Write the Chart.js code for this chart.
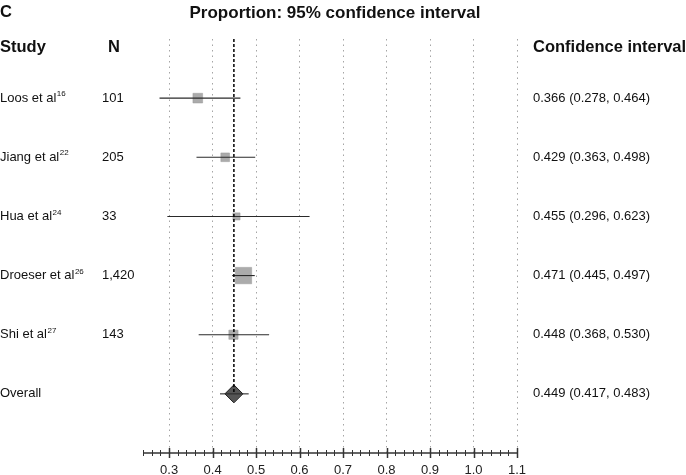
<!DOCTYPE html>
<html>
<head>
<meta charset="utf-8">
<script src="https://cdn.jsdelivr.net/npm/chart.js@4.4.1/dist/chart.umd.min.js"></script>
<style>
  html, body { margin: 0; padding: 0; background: #fff; overflow: hidden; }
  #wrap { width: 686px; height: 475px; }
</style>
</head>
<body>
<div id="wrap"><canvas id="chart1" width="686" height="475"></canvas></div>
<script>
/* forest plot data */
const studies = ['Loos et al', 'Jiang et al', 'Hua et al', 'Droeser et al', 'Shi et al', 'Overall'];
const refs = ['16', '22', '24', '26', '27', ''];
const sampleSizes = ['101', '205', '33', '1,420', '143', ''];
const estimates = [0.366, 0.429, 0.455, 0.471, 0.448, 0.449];
const lower = [0.278, 0.363, 0.296, 0.445, 0.368, 0.417];
const upper = [0.464, 0.498, 0.623, 0.497, 0.530, 0.483];
const weights = [16.4, 13.1, 8.9, 46.7, 14.8];   // % weight, box area
const tickValues = [0.3, 0.4, 0.5, 0.6, 0.7, 0.8, 0.9, 1.0, 1.1];

const FONT = "'Liberation Sans', Arial, sans-serif";
const last = studies.length - 1;

const whiskers = studies.map((s, i) => ({
    data: [{ x: lower[i], y: i }, { x: upper[i], y: i }],
    showLine: true,
    borderColor: '#2a2a2a',
    borderWidth: 1.1,
    pointRadius: 0,
    order: 1
}));

const boxes = {
    data: weights.map((w, i) => ({ x: estimates[i], y: i })),
    pointStyle: 'rect',
    pointRadius: weights.map(w => Math.sqrt(w) * 2.4 / Math.SQRT2),
    backgroundColor: '#ababab',
    borderColor: '#9a9a9a',
    borderWidth: 0.5,
    order: 2
};

const diamond = {
    data: [{ x: estimates[last], y: last }],
    pointStyle: 'rectRot',
    pointRadius: 9,
    backgroundColor: '#555',
    borderColor: '#222',
    borderWidth: 1,
    order: 2
};

const overallLine = {
    data: [{ x: estimates[last], y: -1 }, { x: estimates[last], y: last }],
    showLine: true,
    borderColor: '#000',
    borderWidth: 1.5,
    borderDash: [3, 2],
    pointRadius: 0,
    order: 0
};

/* axis line with major and minor ticks crossing it */
const axisPlugin = {
    id: 'axisPlugin',
    afterDraw(chart) {
        const c = chart.ctx;
        const xs = chart.scales.x;
        const y = chart.chartArea.bottom;
        c.save();
        c.strokeStyle = '#333';
        c.lineWidth = 1.3;
        c.beginPath();
        c.moveTo(xs.left, y);
        c.lineTo(xs.right, y);
        c.stroke();
        for (let k = 12; k <= 55; k++) {
            const v = k / 50;
            const px = Math.round(xs.getPixelForValue(v)) + 0.5;
            const major = k % 5 === 0;
            c.lineWidth = major ? 1.5 : 1;
            c.beginPath();
            c.moveTo(px, y - (major ? 5 : 3));
            c.lineTo(px, y + (major ? 5 : 3));
            c.stroke();
        }
        c.restore();
    }
};

/* title, column headers and row texts */
const textPlugin = {
    id: 'textPlugin',
    afterDraw(chart) {
        const c = chart.ctx;
        const ys = chart.scales.y;
        c.save();
        c.fillStyle = '#111';
        c.textBaseline = 'middle';
        c.font = 'bold 16.5px ' + FONT;
        c.textAlign = 'left';
        c.fillText('C', 0, 12);
        c.textAlign = 'center';
        c.font = 'bold 17px ' + FONT;
        c.fillText('Proportion: 95% confidence interval', 335, 13);
        c.textAlign = 'left';
        c.font = 'bold 16.5px ' + FONT;
        c.fillText('Study', 0, 47);
        c.fillText('N', 108, 47);
        c.fillText('Confidence interval', 533, 47);

        studies.forEach((s, i) => {
            const py = ys.getPixelForValue(i);
            c.font = '13px ' + FONT;
            c.fillText(s, 0, py);
            const w = c.measureText(s).width;
            c.fillText(sampleSizes[i], 102, py);
            c.fillText(estimates[i].toFixed(3) + ' (' + lower[i].toFixed(3) + ', ' + upper[i].toFixed(3) + ')', 533, py);
            if (refs[i]) {
                c.font = '8px ' + FONT;
                c.fillText(refs[i], w + 0.5, py - 4);
            }
        });
        c.restore();
    }
};

const config = {
    type: 'scatter',
    data: { datasets: [overallLine, ...whiskers, boxes, diamond] },
    options: {
        responsive: false,
        animation: false,
        layout: { padding: { left: 143, right: 169, top: 39, bottom: 0 } },
        plugins: { legend: { display: false }, tooltip: { enabled: false } },
        scales: {
            x: {
                type: 'linear',
                min: 0.24,
                max: 1.1,
                afterBuildTicks: (scale) => { scale.ticks = tickValues.map(v => ({ value: v })); },
                afterFit: (scale) => { scale.height = 22; },
                grid: { color: '#a5a5a5', lineWidth: 1, drawTicks: false },
                border: { display: false, dash: [1.5, 4] },
                ticks: {
                    padding: 10,
                    color: '#222',
                    font: { family: FONT, size: 13 },
                    callback: (v) => Number(v).toFixed(1)
                }
            },
            y: {
                type: 'linear',
                display: false,
                reverse: true,
                min: -1,
                max: 6
            }
        }
    },
    plugins: [axisPlugin, textPlugin]
};

const chart1 = new Chart(document.getElementById('chart1'), config);
</script>
</body>
</html>
